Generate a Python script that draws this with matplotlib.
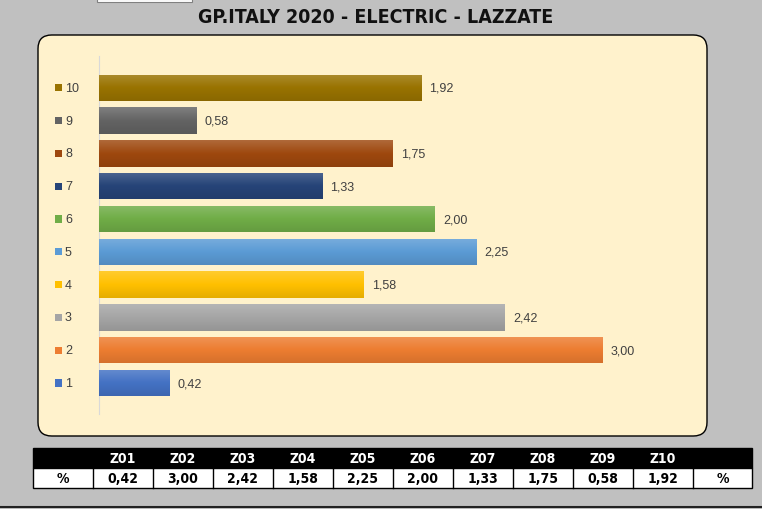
import matplotlib
matplotlib.use("Agg")
import matplotlib.pyplot as plt
import numpy as np
from matplotlib.patches import FancyBboxPatch, Rectangle
from matplotlib.colors import to_rgb, LinearSegmentedColormap
import matplotlib.transforms as mtransforms
from matplotlib import font_manager

title = "GP.ITALY 2020 - ELECTRIC - LAZZATE"
categories = ["1", "2", "3", "4", "5", "6", "7", "8", "9", "10"]
values = [0.42, 3.00, 2.42, 1.58, 2.25, 2.00, 1.33, 1.75, 0.58, 1.92]
colors = ["#4472C4", "#ED7D31", "#A5A5A5", "#FFC000", "#5B9BD5",
          "#70AD47", "#264478", "#9E480E", "#636363", "#997300"]
table_header = ["", "Z01", "Z02", "Z03", "Z04", "Z05", "Z06", "Z07", "Z08", "Z09", "Z10", ""]
table_row = ["%", "0,42", "3,00", "2,42", "1,58", "2,25", "2,00", "1,33", "1,75", "0,58", "1,92", "%"]

W, H = 762, 510
fig = plt.figure(figsize=(W / 100, H / 100), dpi=100)
fig.patch.set_facecolor("#c0c0c0")

def fx(x):
    return x / W

def fy(y):
    return 1 - y / H

cond = [f for f in font_manager.fontManager.ttflist
        if f.name == "DejaVu Sans" and "Condensed" in f.fname and "Bold" in f.fname
        and "Oblique" not in f.fname]
if cond:
    cond_prop = dict(fontproperties=font_manager.FontProperties(fname=cond[0].fname))
else:
    cond_prop = dict(family="DejaVu Sans", fontweight="bold")

# top-left small white box
fig.patches.append(Rectangle((fx(97), fy(3)), fx(192) - fx(97), fy(0) - fy(3),
                             transform=fig.transFigure, facecolor="white",
                             edgecolor="#808080", lw=0.8))

# title
t = fig.text(fx(376), fy(17.5), title, ha="center", va="center", color="#111111", **cond_prop)
t.set_fontsize(14)

# panel
panel = FancyBboxPatch((fx(38), fy(437)), fx(707) - fx(38), fy(36) - fy(437),
                       boxstyle="round,pad=0,rounding_size=0.018",
                       transform=fig.transFigure, facecolor="#fff2cc",
                       edgecolor="black", lw=1.0, mutation_aspect=W / H, zorder=0)
fig.patches.append(panel)

# chart axes
ax = fig.add_axes([fx(99), fy(415), fx(686) - fx(99), fy(57) - fy(415)])
ax.set_zorder(2)
ax.set_facecolor("none")
ypos = np.arange(1, len(values) + 1)
bars = ax.barh(ypos, values, height=0.8, color=colors, edgecolor="none")
for s in ["top", "right", "bottom"]:
    ax.spines[s].set_visible(False)
ax.spines["left"].set_color("#d9d9d9")
ax.spines["left"].set_linewidth(0.8)
ax.set_xticks([])
ax.set_yticks([])

lab_font = ["Liberation Sans", "DejaVu Sans"]
grad = np.linspace(0, 1, 64).reshape(-1, 1)
for b, c, v, y in zip(bars, colors, values, ypos):
    rgb = np.array(to_rgb(c))
    top = rgb + (1 - rgb) * 0.18
    bot = rgb * 0.9
    cmap = LinearSegmentedColormap.from_list("g", [bot, rgb, top])
    im = ax.imshow(grad, extent=(0, v, y - 0.4, y + 0.4), origin="lower",
                   cmap=cmap, aspect="auto", zorder=3, interpolation="bilinear")
    im.set_clip_path(b)
    ax.text(v + 0.05, y, f"{v:.2f}".replace(".", ","), ha="left", va="center",
            fontsize=9, color="#404040", family=lab_font, zorder=4)

ax.set_xlim(0, 3.5)
ax.set_ylim(0.055, 10.97)

# category labels with colour squares
trans = mtransforms.blended_transform_factory(fig.transFigure, ax.transData)
for cat, c, y in zip(categories, colors, ypos):
    ax.add_patch(Rectangle((fx(55), y - 0.11), fx(7), 0.22, transform=trans,
                           facecolor=c, edgecolor="none", clip_on=False))
    ax.text(fx(65), y, cat, transform=trans, ha="left", va="center",
            fontsize=9, color="#404040", family=lab_font, clip_on=False)

# table
col_edges = [33, 93, 153, 213, 273, 333, 393, 453, 513, 573, 633, 693, 752]
y0, y1, y2 = 449, 469, 489
fig.patches.append(Rectangle((fx(33), fy(y1)), fx(752) - fx(33), fy(y0) - fy(y1),
                             transform=fig.transFigure, facecolor="black", edgecolor="black", lw=1))
fig.patches.append(Rectangle((fx(33), fy(y2)), fx(752) - fx(33), fy(y1) - fy(y2),
                             transform=fig.transFigure, facecolor="white", edgecolor="black", lw=1))
for i in range(len(table_header)):
    xl, xr = col_edges[i], col_edges[i + 1]
    xc = (xl + xr) / 2
    if i > 0:
        fig.add_artist(plt.Line2D([fx(xl), fx(xl)], [fy(y2), fy(y1)],
                                  transform=fig.transFigure, color="black", lw=1))
    a = fig.text(fx(xc), fy((y0 + y1) / 2), table_header[i], ha="center", va="center",
                 color="white", **cond_prop)
    a.set_fontsize(10)
    b2 = fig.text(fx(xc), fy((y1 + y2) / 2), table_row[i], ha="center", va="center",
                  color="black", **cond_prop)
    b2.set_fontsize(10)

# bottom dark line
fig.add_artist(plt.Line2D([0, 1], [fy(508), fy(508)], transform=fig.transFigure,
                          color="#222222", lw=1.5))

fig.savefig("out.png", dpi=100, facecolor=fig.get_facecolor())
